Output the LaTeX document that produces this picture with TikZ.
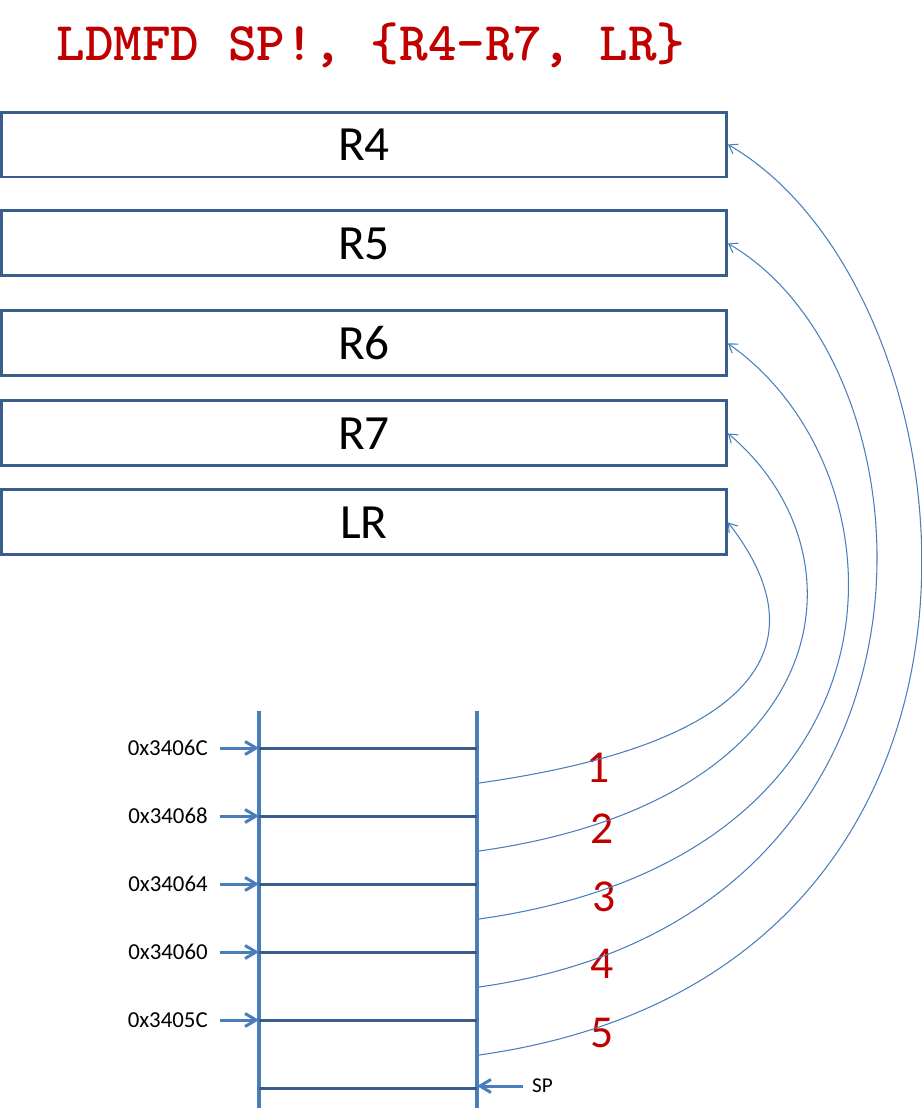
\documentclass[tikz,border=0pt]{standalone}
\usepackage{fontspec}
\setmainfont{Carlito}
\usetikzlibrary{arrows.meta,positioning}

\definecolor{boxblue}{HTML}{385D8A}
\definecolor{lineblue}{HTML}{4A7EBB}
\definecolor{codered}{HTML}{C00000}

\begin{document}
\begin{tikzpicture}[
      x=0.02cm, y=-0.02cm,
      reg/.style={draw=boxblue, line width=1.7pt, minimum width=14.5cm, minimum height=1.3cm, inner sep=0pt, font=\fontsize{28}{32}\selectfont},
      addr/.style={anchor=east, inner xsep=6.8pt, inner ysep=0pt, font=\fontsize{13}{15}\selectfont},
      num/.style={text=codered, inner sep=0pt, font=\fontsize{26}{30}\selectfont},
      stack/.style={draw=lineblue, line width=2pt},
      slot/.style={draw=boxblue, line width=1.7pt},
      ptr/.style={-{Straight Barb[length=2.2mm, width=2.6mm]}, draw=lineblue, line width=1.7pt},
      pop/.style={-{Straight Barb[length=1.6mm, width=2.2mm]}, draw=lineblue, line width=0.6pt}
    ]
      \useasboundingbox (0,0) rectangle (921,1113);
      \node[text=codered, font=\ttfamily\bfseries\fontsize{31}{34}\selectfont] (title) at (371,45) {LDMFD SP!, \{R4-R7, LR\}};
      % registers
      \node[reg] (r4) at (364,144.5) {R4};
      \node[reg, below=0.62cm of r4] (r5) {R5};
      \node[reg, below=0.64cm of r5] (r6) {R6};
      \node[reg, below=0.44cm of r6] (r7) {R7};
      \node[reg, below=0.42cm of r7] (lr) {LR};
      % stack
      \draw[stack] (259,711) -- (259,1108);
      \draw[stack] (477,711) -- (477,1108);
      \foreach \k in {0,...,5} {
        \coordinate (sl\k) at (259,748+68*\k);
        \coordinate (sr\k) at (477,748+68*\k);
        \draw[slot] (sl\k) -- (sr\k);
      }
      \foreach \k/\adr in {0/0x3406C, 1/0x34068, 2/0x34064, 3/0x34060, 4/0x3405C} {
        \node[addr] (a\k) at (220,748+68*\k) {\adr};
        \draw[ptr] (a\k) -- (sl\k);
      }
      \node[addr, anchor=west, inner xsep=5pt, font=\fontsize{12}{14}\selectfont] (sp) at (523,1086) {SP};
      \draw[ptr] (sp) -- (sr5 |- sp);
      % pops
      \foreach \k/\x/\y in {1/598/768, 2/602/829, 3/604/897, 4/602/964, 5/602/1033}
        \node[num] (n\k) at (\x,\y) {\k};
      \foreach \k/\reg/\ang/\da/\db in {1/lr/-52/5.8/3.0, 2/r7/-40/7.3/3.7, 3/r6/-35/9.0/4.5, 4/r5/-30/10.0/5.0, 5/r4/-30/11.8/5.9} {
        \coordinate (c\k) at (479,783+68*\k-68);
        \draw[pop] (c\k) to[out=8, in=\ang, out distance=\da cm, in distance=\db cm] (\reg.east);
      }
    \end{tikzpicture}
\end{document}
